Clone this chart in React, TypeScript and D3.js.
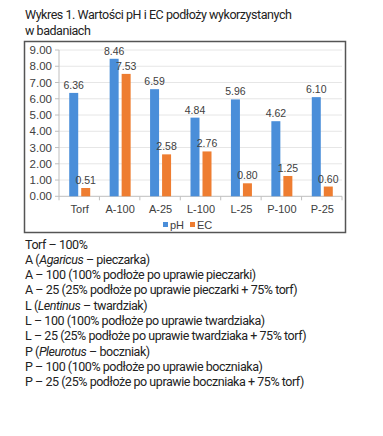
import React from "react";
import * as d3 from "d3";

const categories = ["Torf", "A-100", "A-25", "L-100", "L-25", "P-100", "P-25"];
const phValues = [6.36, 8.46, 6.59, 4.84, 5.96, 4.62, 6.1];
const ecValues = [0.51, 7.53, 2.58, 2.76, 0.8, 1.25, 0.6];
const yTicks = [0, 1, 2, 3, 4, 5, 6, 7, 8, 9];
const seriesNames = ["pH", "EC"];
const titleLines = ["Wykres 1. Wartości pH i EC podłoży wykorzystanych", "w badaniach"];
const notes: { pre: string; it?: string; post?: string }[] = [
  { pre: "Torf – 100%" },
  { pre: "A (", it: "Agaricus", post: " – pieczarka)" },
  { pre: "A – 100 (100% podłoże po uprawie pieczarki)" },
  { pre: "A – 25 (25% podłoże po uprawie pieczarki + 75% torf)" },
  { pre: "L (", it: "Lentinus", post: " – twardziak)" },
  { pre: "L – 100 (100% podłoże po uprawie twardziaka)" },
  { pre: "L – 25 (25% podłoże po uprawie twardziaka + 75% torf)" },
  { pre: "P (", it: "Pleurotus", post: " – boczniak)" },
  { pre: "P – 100 (100% podłoże po uprawie boczniaka)" },
  { pre: "P – 25 (25% podłoże po uprawie boczniaka + 75% torf)" },
];

const colors = ["#4a8ed9", "#ee7d31"];

export default function App() {
  const x = d3.scaleBand().domain(categories).range([59, 342]);
  const y = d3.scaleLinear().domain([0, 9]).range([196.3, 50]);
  const barW = 9;
  const gap = 3;
  const series = [phValues, ecValues];
  const chartFont = "'Liberation Sans', Arial, sans-serif";
  const textFont = "Roboto, sans-serif";
  return (
    <svg width={383} height={436} style={{ position: "absolute", left: 0, top: 0 }}>
      <rect width={383} height={436} fill="#fff" />
      {titleLines.map((t, i) => (
        <text key={i} x={25} y={19 + i * 16} fontFamily={textFont} fontSize={12.5} letterSpacing={-0.45} fill="#222">
          {t}
        </text>
      ))}
      <rect x={24.5} y={41.5} width={321} height={191} fill="#fff" stroke="#555" strokeWidth={1.5} />
      {yTicks.map((t) => (
        <g key={t}>
          <line x1={59} x2={342} y1={y(t)} y2={y(t)} stroke={t === 0 ? "#bfbfbf" : "#e6e6e6"} strokeWidth={1} />
          <line x1={55} x2={59} y1={y(t)} y2={y(t)} stroke="#bfbfbf" />
          <text x={52} y={y(t)} dy="0.35em" textAnchor="end" fontFamily={chartFont} fontSize={11.5} fill="#404040">
            {d3.format(".2f")(t)}
          </text>
        </g>
      ))}
      <line x1={59} x2={59} y1={y(9)} y2={y(0)} stroke="#bfbfbf" />
      {categories.map((c) => (
        <line key={c} x1={x(c)!} x2={x(c)!} y1={y(0)} y2={y(0) + 4} stroke="#bfbfbf" />
      ))}
      <line x1={342} x2={342} y1={y(0)} y2={y(0) + 4} stroke="#bfbfbf" />
      {categories.map((c, i) => {
        const cx = x(c)! + x.bandwidth() / 2 + 0.5;
        return (
          <g key={c}>
            {series.map((vals, s) => {
              const bx = s === 0 ? cx - gap / 2 - barW : cx + gap / 2;
              return (
                <g key={s}>
                  <rect x={bx} y={y(vals[i])} width={barW} height={y(0) - y(vals[i])} fill={colors[s]} />
                  <text x={bx + barW / 2} y={y(vals[i]) - 4} textAnchor="middle" fontFamily={chartFont} fontSize={10.5} fill="#404040">
                    {d3.format(".2f")(vals[i])}
                  </text>
                </g>
              );
            })}
            <text x={cx} y={209.5} dy="0.35em" textAnchor="middle" fontFamily={chartFont} fontSize={11} fill="#404040">
              {c}
            </text>
          </g>
        );
      })}
      {seriesNames.map((n, s) => {
        const lx = 163 + s * 27;
        return (
          <g key={n}>
            <rect x={lx} y={222} width={5} height={5} fill={colors[s]} />
            <text x={lx + 7} y={225} dy="0.35em" fontFamily={chartFont} fontSize={11} fill="#404040">
              {n}
            </text>
          </g>
        );
      })}
      {notes.map((n, i) => (
        <text key={i} x={25} y={248.5 + i * 15.3} fontFamily={textFont} fontSize={12.5} letterSpacing={-0.45} fill="#222">
          {n.pre}
          {n.it && <tspan fontStyle="italic">{n.it}</tspan>}
          {n.post}
        </text>
      ))}
    </svg>
  );
}
